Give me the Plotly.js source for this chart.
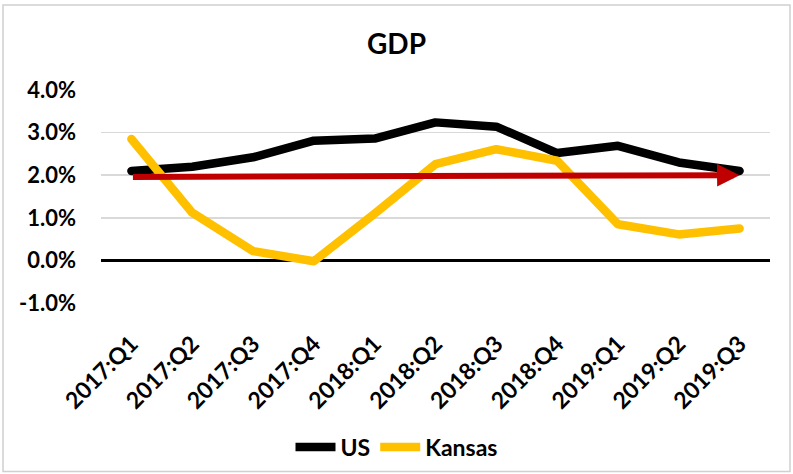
<!DOCTYPE html>
<html>
<head>
<meta charset="utf-8">
<script src="https://cdn.plot.ly/plotly-3.0.1.min.js"></script>
<style>
html,body{margin:0;padding:0;background:#fff;}
#chart{width:793px;height:474px;}
.scatterlayer path.js-line{stroke-linecap:round;stroke-linejoin:round;}
</style>
</head>
<body>
<div id="chart"></div>
<script>
// ---- data ----
const categories = ["2017:Q1","2017:Q2","2017:Q3","2017:Q4","2018:Q1","2018:Q2","2018:Q3","2018:Q4","2019:Q1","2019:Q2","2019:Q3"];
const usGDP     = [2.10, 2.20, 2.42, 2.81, 2.86, 3.24, 3.14, 2.52, 2.69, 2.30, 2.10];
const kansasGDP = [2.85, 1.12, 0.22, -0.02, 1.10, 2.26, 2.61, 2.34, 0.85, 0.61, 0.75];
const trendStartValue = 1.96;
const trendEndValue = 2.00;
const yTickValues = [-1, 0, 1, 2, 3, 4];
const yTickLabels = ["-1.0%","0.0%","1.0%","2.0%","3.0%","4.0%"];

const FONT = "Lato, 'Open Sans', sans-serif";
const xIdx = categories.map((c, i) => i);

const traces = [
  {
    type: "scatter", mode: "lines", name: "US",
    x: xIdx, y: usGDP,
    line: {color: "#000000", width: 8.5},
    hoverinfo: "skip"
  },
  {
    type: "scatter", mode: "lines", name: "Kansas",
    x: xIdx, y: kansasGDP,
    line: {color: "#FFC000", width: 8.5},
    hoverinfo: "skip"
  }
];

const layout = {
  width: 793, height: 474,
  margin: {l: 101, r: 23, t: 90, b: 171, pad: 0},
  paper_bgcolor: "#ffffff",
  plot_bgcolor: "#ffffff",
  showlegend: true,
  font: {family: FONT, color: "#000000"},
  title: {
    text: "GDP",
    font: {family: FONT, size: 28, weight: "bold", color: "#000000"},
    x: 0.5, xref: "container", xanchor: "center",
    y: 1 - 44/474, yref: "container", yanchor: "middle"
  },
  xaxis: {
    range: [-0.5, categories.length - 0.5],
    tickmode: "array",
    tickvals: xIdx,
    ticktext: categories,
    tickangle: -45,
    tickfont: {family: FONT, size: 23, weight: "bold", color: "#000000"},
    showgrid: false, zeroline: false, showline: false,
    ticks: "", ticklabelstandoff: 22,
    fixedrange: true
  },
  yaxis: {
    range: [-1, 4],
    tickmode: "array",
    tickvals: yTickValues,
    ticktext: yTickLabels,
    tickfont: {family: FONT, size: 22, weight: "bold", color: "#000000"},
    showgrid: true, gridcolor: "#d9d9d9", gridwidth: 1.5,
    zeroline: true, zerolinecolor: "#000000", zerolinewidth: 2.5,
    showline: false, ticks: "", ticklabelstandoff: 24,
    fixedrange: true
  },
  legend: {
    orientation: "h",
    x: 0.5, xref: "container", xanchor: "center",
    y: 1 - 447/474, yref: "container", yanchor: "middle",
    font: {family: FONT, size: 23, weight: "bold", color: "#000000"},
    itemwidth: 40,
    bgcolor: "rgba(0,0,0,0)"
  },
  annotations: [
    {
      xref: "x", yref: "y", axref: "x", ayref: "y",
      x: categories.length - 1, y: trendEndValue,
      ax: 0, ay: trendStartValue,
      showarrow: true, arrowhead: 2, arrowsize: 0.75, arrowwidth: 6,
      arrowcolor: "#C00000", standoff: 0, text: ""
    }
  ],
  shapes: [
    {
      type: "rect", xref: "paper", yref: "paper",
      x0: (3-101)/669, x1: (790-101)/669,
      y0: (302.7-471)/212.7, y1: (302.7-5)/212.7,
      line: {color: "#d0d0d0", width: 1.5},
      fillcolor: "rgba(0,0,0,0)", layer: "below"
    }
  ]
};

Plotly.newPlot("chart", traces, layout, {displayModeBar: false, staticPlot: true});
</script>
</body>
</html>
